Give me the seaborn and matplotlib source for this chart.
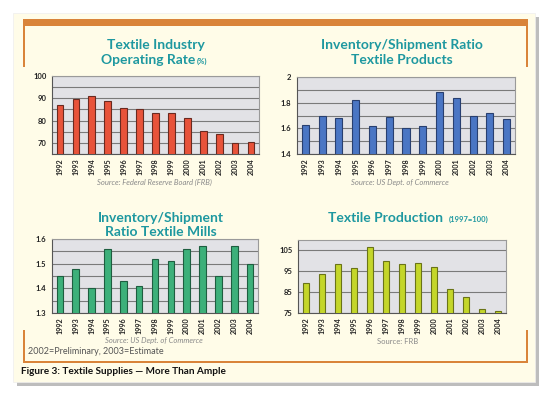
import matplotlib
matplotlib.use("Agg")
import matplotlib.pyplot as plt
import seaborn as sns
from matplotlib.patches import Rectangle

# data
years = ["1992", "1993", "1994", "1995", "1996", "1997", "1998",
         "1999", "2000", "2001", "2002", "2003", "2004"]
operating_rate = [87.2, 89.6, 91.1, 88.7, 85.7, 85.3, 83.2, 83.2, 81.0, 75.3, 73.9, 70.0, 70.5]
inv_products = [1.627, 1.698, 1.68, 1.82, 1.622, 1.688, 1.60, 1.622, 1.884, 1.834, 1.698, 1.72, 1.672]
inv_mills = [1.45, 1.48, 1.40, 1.56, 1.43, 1.41, 1.52, 1.51, 1.56, 1.57, 1.45, 1.57, 1.50]
production = [89.3, 93.6, 98.5, 96.7, 106.6, 99.8, 98.5, 98.8, 96.9, 86.3, 82.5, 76.7, 75.9]

W, H = 548, 393
cream = "#fffce8"
orange = "#d9843a"
teal = "#1e98a0"

sns.set_style("white")
plt.rcParams["font.family"] = ["Lato", "DejaVu Sans"]

fig = plt.figure(figsize=(W / 100, H / 100), dpi=100)
fig.patch.set_facecolor("white")


def px_rect(x, y, w, h, **kw):
    fig.patches.append(Rectangle((x / W, 1 - (y + h) / H), w / W, h / H,
                                 transform=fig.transFigure, **kw))


def ftext(x, y, s, **kw):
    fig.text(x / W, 1 - y / H, s, **kw)


# panel with shadow and orange frame
px_rect(17, 17, 522, 369, facecolor="#bdbdbd", edgecolor="none", zorder=0)
px_rect(13, 13, 522, 369, facecolor=cream, edgecolor="#eeeeee", lw=0.5, zorder=0)
px_rect(23, 19, 505, 7, facecolor=orange, edgecolor="none", zorder=1)
px_rect(23, 19, 2, 48, facecolor=orange, edgecolor="none", zorder=1)
px_rect(526, 19, 2, 48, facecolor=orange, edgecolor="none", zorder=1)
px_rect(23, 330, 2, 33, facecolor=orange, edgecolor="none", zorder=1)
px_rect(526, 330, 2, 33, facecolor=orange, edgecolor="none", zorder=1)
px_rect(23, 361, 505, 2, facecolor=orange, edgecolor="none", zorder=1)


def bar_chart(box, values, color, edge, ylim, major, minor, labels):
    x, y, w, h = box
    ax = fig.add_axes([x / W, 1 - (y + h) / H, w / W, h / H])
    ax.set_zorder(5)
    sns.barplot(x=years, y=values, color=color, edgecolor=edge, linewidth=0.8,
                width=0.42, saturation=1, ax=ax, zorder=3)
    ax.set_facecolor("#e2e2e6")
    ax.set_ylim(*ylim)
    ax.set_xlim(-0.5, len(years) - 0.5)
    ax.set_yticks(major)
    ax.set_yticklabels(labels)
    ax.set_yticks(minor, minor=True)
    ax.set_xticks([i + 0.5 for i in range(-1, len(years))], minor=True)
    ax.grid(True, axis="y", which="both", color="#7a7a7a", lw=0.8, zorder=1)
    ax.set_axisbelow(True)
    for s in ax.spines.values():
        s.set_color("#9a9a9a")
        s.set_linewidth(0.8)
    ax.spines["left"].set_color("#555555")
    ax.spines["bottom"].set_color("#555555")
    ax.set_xlabel("")
    ax.set_ylabel("")
    ax.tick_params(axis="x", which="major", rotation=90, labelsize=5.2, length=0, pad=3)
    ax.tick_params(axis="x", which="minor", length=2.5, color="#555555")
    ax.tick_params(axis="y", which="major", labelsize=5.5, length=3, pad=1,
                   color="#555555")
    ax.tick_params(axis="y", which="minor", length=3, color="#555555")
    for t in ax.get_xticklabels() + ax.get_yticklabels():
        t.set_fontweight("bold")
        t.set_color("#222222")
    return ax


bar_chart((52, 76, 207, 78), operating_rate, "#e8533a", "#6a2a20", (65, 100),
          [70, 80, 90, 100], [65, 75, 85, 95], ["70", "80", "90", "100"])
bar_chart((297, 77, 218, 77), inv_products, "#4a76c4", "#283f70", (1.4, 2.0),
          [1.4, 1.6, 1.8, 2.0], [1.5, 1.7, 1.9], ["1.4", "1.6", "1.8", "2"])
bar_chart((52, 239, 206, 74), inv_mills, "#3db07a", "#1e5e40", (1.3, 1.6),
          [1.3, 1.4, 1.5, 1.6], [1.35, 1.45, 1.55], ["1.3", "1.4", "1.5", "1.6"])
bar_chart((298, 240, 208, 73), production, "#c4d62a", "#6a7418", (75, 110),
          [75, 85, 95, 105], [], ["75", "85", "95", "105"])

tkw = dict(color=teal, fontweight="bold", fontsize=10, ha="center", va="center")
ftext(156, 45, "Textile Industry", **tkw)
ftext(148, 60, "Operating Rate", **tkw)
ftext(202, 61, "(%)", color=teal, fontweight="bold", fontsize=5.5, ha="center", va="center")
ftext(402, 45, "Inventory/Shipment Ratio", **tkw)
ftext(402, 60, "Textile Products", **tkw)
ftext(161, 218, "Inventory/Shipment", **tkw)
ftext(161, 232, "Ratio Textile Mills", **tkw)
ftext(385, 218, "Textile Production", **tkw)
ftext(469, 219, "(1997=100)", color=teal, fontweight="bold", fontsize=5.5,
      ha="center", va="center")

skw = dict(color="#8a8a8a", fontsize=5.5, ha="center", va="center")
ftext(154, 182, "Source: Federal Reserve Board (FRB)", style="italic", **skw)
ftext(400, 182, "Source: US Dept. of Commerce", style="italic", **skw)
ftext(154, 341, "Source: US Dept. of Commerce", style="italic", **skw)
ftext(398, 342, "Source: FRB", **skw)

ftext(28, 352, "2002=Preliminary, 2003=Estimate", color="#555555", fontsize=6.5,
      ha="left", va="center")
ftext(21, 372, "Figure 3: Textile Supplies \u2014 More Than Ample", color="#111111",
      fontsize=7.2, fontweight="bold", ha="left", va="center")

fig.savefig("out.png", dpi=100)
